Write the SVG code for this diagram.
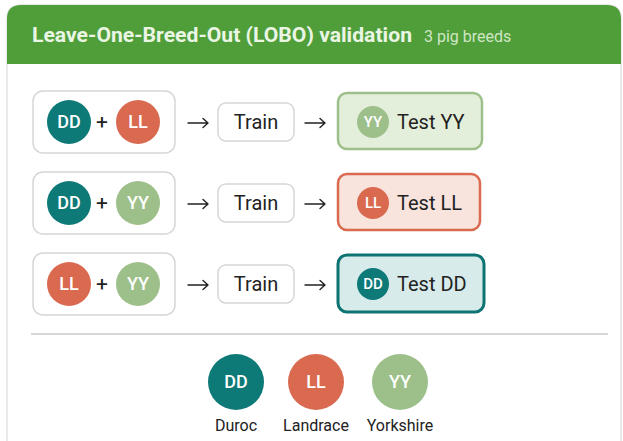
<svg xmlns="http://www.w3.org/2000/svg" width="623" height="441" viewBox="0 0 623 441">
<style>
text{font-family:Roboto,"Liberation Sans",Arial,sans-serif}
.grp{fill:#fff;stroke:#d6d6d6;stroke-width:1.5}
.train{fill:#fff;stroke:#d6d6d6;stroke-width:1.5}
.lbl{font-size:20px;fill:#222}
.cl{font-size:18px;font-weight:500;fill:#fff;text-anchor:middle}
.cs{font-size:15px;font-weight:500;fill:#fff;text-anchor:middle}
.plus{font-size:21px;font-weight:400;fill:#222;text-anchor:middle}
.arr{fill:none;stroke:#222;stroke-width:1.4;stroke-linecap:round;stroke-linejoin:round}
.dd{fill:#0e7a77}.ll{fill:#d96a50}.yy{fill:#9dc08a}
.leg{font-size:16px;fill:#222;text-anchor:middle}
</style>
<rect width="623" height="441" fill="#fff"/>
<g id="card">
<path d="M7,460 V19 Q7,5 21,5 H607 Q621,5 621,19 V460" fill="#fff" stroke="#e2e2e2" stroke-width="1.5"/>
<path d="M7,64 V19 Q7,5 21,5 H607 Q621,5 621,19 V64 Z" fill="#4f9e3a"/>
<text x="32" y="42" font-size="21" font-weight="700" fill="#eaf5e4" textLength="380" lengthAdjust="spacingAndGlyphs">Leave-One-Breed-Out (LOBO) validation</text>
<text x="424" y="42" font-size="16" fill="#cfe6c4">3 pig breeds</text>
</g>
<g id="row1">
<g id="train-set-1"><rect class="grp" x="33" y="91" width="142" height="62" rx="10"/>
<circle class="dd" cx="69" cy="122" r="22"/><text class="cl" x="69" y="128">DD</text>
<text class="plus" x="102" y="129">+</text>
<circle class="ll" cx="138" cy="122" r="22"/><text class="cl" x="138" y="128">LL</text></g>
<g id="train-1"><rect class="train" x="218" y="103" width="76" height="38" rx="8"/><text class="lbl" x="256" y="129" text-anchor="middle">Train</text></g>
<g id="test-1"><rect x="338" y="93" width="144" height="56" rx="9" fill="#e4efdb" stroke="#9dc08a" stroke-width="2.5"/>
<circle class="yy" cx="373" cy="122" r="16"/><text class="cs" x="373" y="127">YY</text>
<text class="lbl" x="397" y="129">Test YY</text></g>
</g>
<g id="row2">
<g id="train-set-2"><rect class="grp" x="33" y="172" width="142" height="62" rx="10"/>
<circle class="dd" cx="69" cy="203" r="22"/><text class="cl" x="69" y="209">DD</text>
<text class="plus" x="102" y="210">+</text>
<circle class="yy" cx="138" cy="203" r="22"/><text class="cl" x="138" y="209">YY</text></g>
<g id="train-2"><rect class="train" x="218" y="184" width="76" height="38" rx="8"/><text class="lbl" x="256" y="210" text-anchor="middle">Train</text></g>
<g id="test-2"><rect x="338" y="174" width="142" height="56" rx="9" fill="#f8e3dd" stroke="#d96a50" stroke-width="2.5"/>
<circle class="ll" cx="373" cy="203" r="16"/><text class="cs" x="373" y="208">LL</text>
<text class="lbl" x="397" y="210">Test LL</text></g>
</g>
<g id="row3">
<g id="train-set-3"><rect class="grp" x="33" y="253" width="142" height="62" rx="10"/>
<circle class="ll" cx="69" cy="284" r="22"/><text class="cl" x="69" y="290">LL</text>
<text class="plus" x="102" y="291">+</text>
<circle class="yy" cx="138" cy="284" r="22"/><text class="cl" x="138" y="290">YY</text></g>
<g id="train-3"><rect class="train" x="218" y="265" width="76" height="38" rx="8"/><text class="lbl" x="256" y="291" text-anchor="middle">Train</text></g>
<g id="test-3"><rect x="338" y="255" width="146" height="57" rx="9" fill="#d7ebea" stroke="#0e7373" stroke-width="3"/>
<circle class="dd" cx="373" cy="284" r="16"/><text class="cs" x="373" y="289">DD</text>
<text class="lbl" x="397" y="291">Test DD</text></g>
</g>
<g id="connectors">
<path class="arr" d="M188,123 H208 M203,118.5 L208,123 L203,127.5"/>
<path class="arr" d="M305,123 H325 M320,118.5 L325,123 L320,127.5"/>
<path class="arr" d="M188,204 H208 M203,199.5 L208,204 L203,208.5"/>
<path class="arr" d="M305,204 H325 M320,199.5 L325,204 L320,208.5"/>
<path class="arr" d="M188,285 H208 M203,280.5 L208,285 L203,289.5"/>
<path class="arr" d="M305,285 H325 M320,280.5 L325,285 L320,289.5"/>
</g>
<line x1="31" y1="334" x2="608" y2="334" stroke="#c8c8c8" stroke-width="1.5"/>
<g id="legend">
<g id="leg-dd"><circle class="dd" cx="236" cy="382" r="28"/><text class="cl" x="236" y="388">DD</text><text class="leg" x="236" y="431">Duroc</text></g>
<g id="leg-ll"><circle class="ll" cx="316" cy="382" r="28"/><text class="cl" x="316" y="388">LL</text><text class="leg" x="316" y="431">Landrace</text></g>
<g id="leg-yy"><circle class="yy" cx="400" cy="382" r="28"/><text class="cl" x="400" y="388">YY</text><text class="leg" x="400" y="431">Yorkshire</text></g>
</g>
</svg>
